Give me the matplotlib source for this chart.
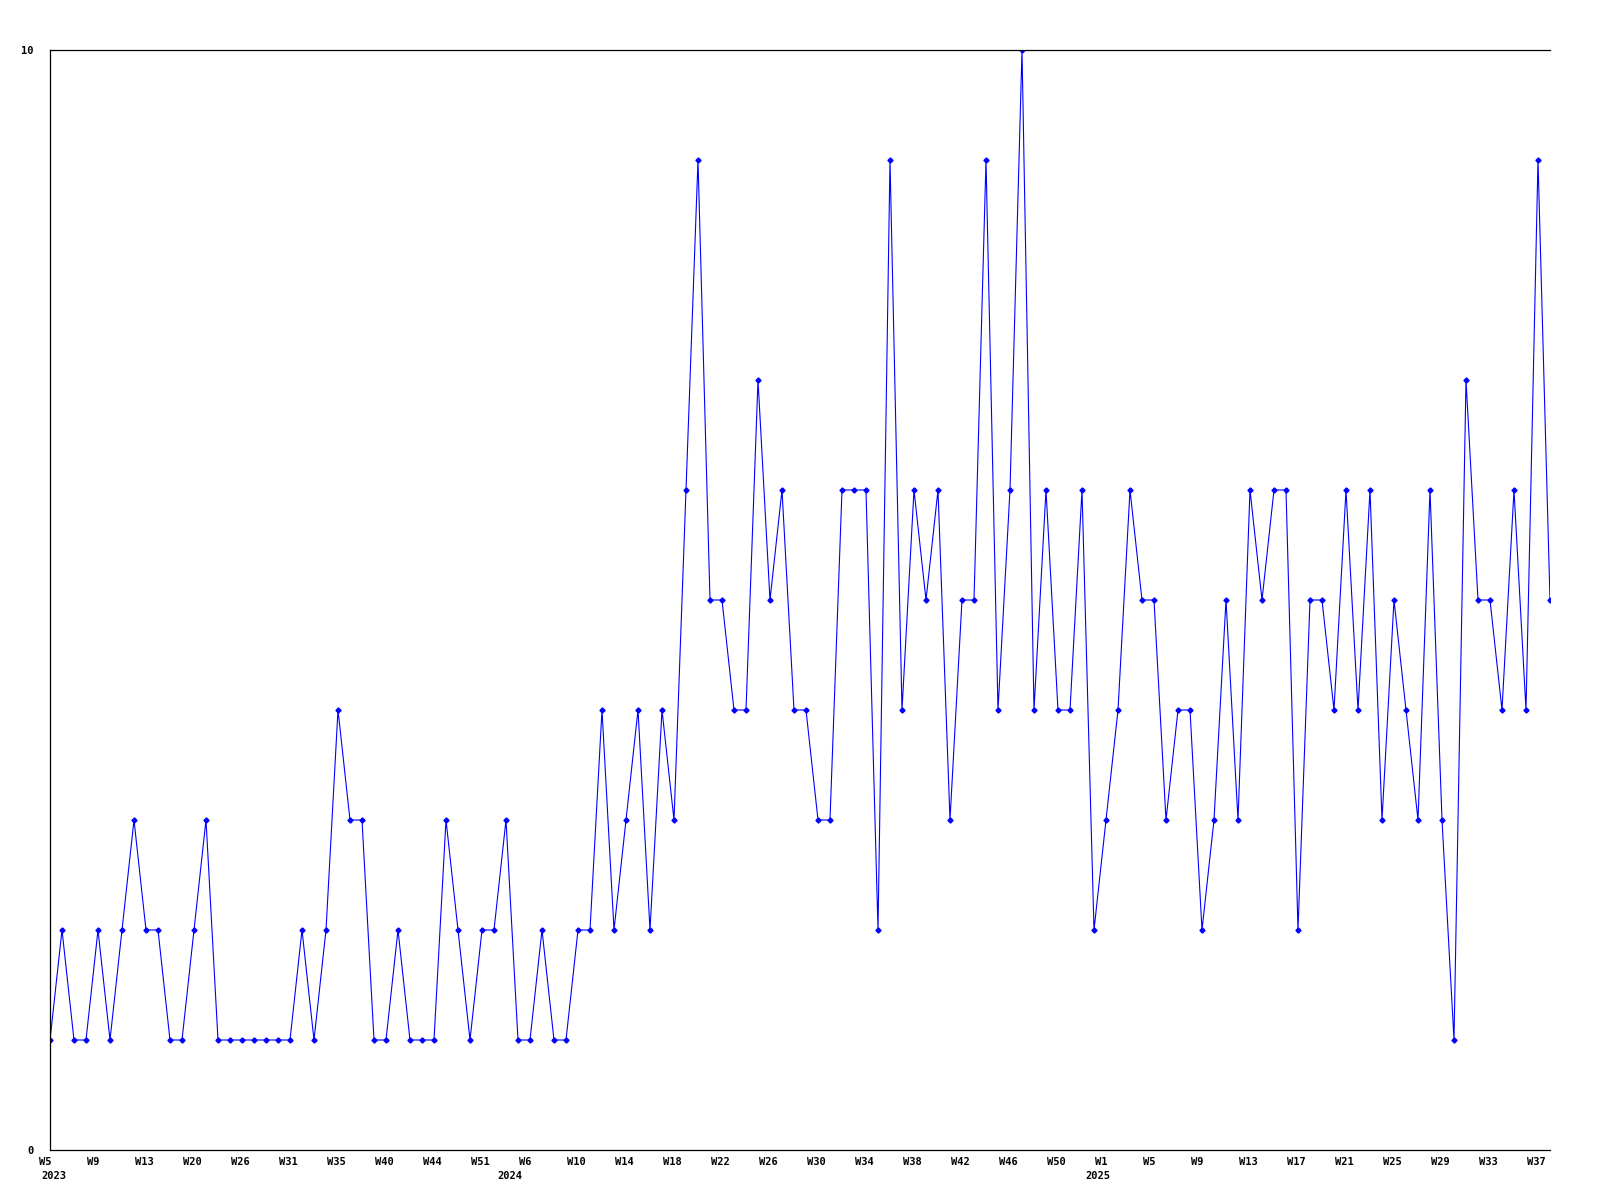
import matplotlib
matplotlib.use("Agg")
import matplotlib.pyplot as plt
from matplotlib.transforms import ScaledTranslation

# Weekly counts, one per week point (2023 W5 ... 2025 W38)
values = [
    1, 2, 1, 1, 2, 1, 2, 3, 2, 2, 1, 1, 2, 3, 1, 1, 1, 1, 1, 1, 1, 2, 1, 2, 4, 3, 3, 1, 1, 2, 1, 1,
    1, 3, 2, 1, 2, 2, 3, 1, 1, 2, 1, 1, 2, 2, 4, 2, 3, 4, 2, 4, 3, 6, 9, 5, 5, 4, 4, 7, 5, 6, 4, 4,
    3, 3, 6, 6, 6, 2, 9, 4, 6, 5, 6, 3, 5, 5, 9, 4, 6, 10, 4, 6, 4, 4, 6, 2, 3, 4, 6, 5, 5, 3, 4, 4,
    2, 3, 5, 3, 6, 5, 6, 6, 2, 5, 5, 4, 6, 4, 6, 3, 5, 4, 3, 6, 3, 1, 7, 5, 5, 4, 6, 4, 9, 5,
]

# Tick labels (every 4th point)
week_labels = ["W5", "W9", "W13", "W20", "W26", "W31", "W35", "W40", "W44", "W51",
               "W6", "W10", "W14", "W18", "W22", "W26", "W30", "W34", "W38", "W42", "W46", "W50",
               "W1", "W5", "W9", "W13", "W17", "W21", "W25", "W29", "W33", "W37"]

# Year labels and the (point-index) position at which each is centred
year_labels = ["2023", "2024", "2025"]
year_positions = [0.3, 38.3, 87.3]

y_ticks = [0, 10]

fig = plt.figure(figsize=(16, 12), dpi=100)
ax = fig.add_axes([50 / 1600, 50 / 1200, 1500 / 1600, 1100 / 1200])

x = list(range(len(values)))
ax.plot(x, values, color="#0000ff", linewidth=0.8, marker="D", markersize=2.6,
        markerfacecolor="#0000ff", markeredgecolor="#0000ff")

ax.set_xlim(0, len(values) - 1)
ax.set_ylim(0, 10)

font = dict(family="DejaVu Sans Mono", weight="bold", size=7.5)

ticks = list(range(0, len(values), 4))[:len(week_labels)]
ax.set_xticks(ticks)
ax.set_xticklabels(week_labels, ha="left", va="top", **font)
ax.tick_params(axis="x", length=0, pad=5)
offset = ScaledTranslation(-11 / 100, 0, fig.dpi_scale_trans)
for lbl in ax.get_xticklabels():
    lbl.set_transform(lbl.get_transform() + offset)

for label, pos in zip(year_labels, year_positions):
    ax.annotate(label, xy=(pos, 0), xycoords=("data", "axes fraction"),
                xytext=(0, -20.9), textcoords="offset points",
                ha="center", va="baseline", annotation_clip=False, **font)

ax.set_yticks(y_ticks)
ax.set_yticklabels([str(v) for v in y_ticks], **font)
ax.tick_params(axis="y", length=0, pad=12)

for s in ["left", "bottom", "top"]:
    ax.spines[s].set_linewidth(0.9)
    ax.spines[s].set_color("black")
ax.spines["right"].set_visible(False)

fig.savefig("out.png", dpi=100, facecolor="white")
